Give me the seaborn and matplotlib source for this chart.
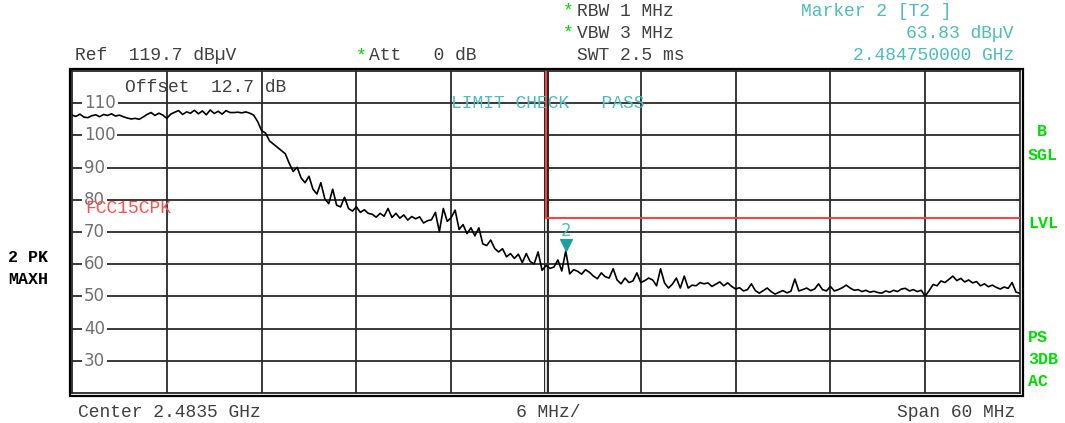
import numpy as np
import pandas as pd
import seaborn as sns
import matplotlib.pyplot as plt
from matplotlib.patches import Rectangle

# sweep settings
center_ghz = 2.4835
span_ghz = 0.060
ref_level = 119.7
n_points = 241

# trace levels (dBuV), 0.25 MHz per point
levels = [
    106.0, 105.6, 106.3, 105.4, 105.2, 105.8, 106.1, 105.5, 106.2, 105.9,
    106.4, 105.7, 106.0, 105.5, 105.1, 104.8, 105.0, 104.7, 105.4, 106.2,
    106.8, 105.9, 106.6, 106.0, 105.0, 106.3, 106.9, 107.4, 106.2, 107.0,
    106.6, 107.5, 106.4, 107.3, 106.1, 107.6, 106.5, 107.2, 106.3, 107.4,
    106.8, 106.8, 106.9, 106.7, 107.0, 106.6, 106.0, 104.0, 101.2, 100.4,
    98.0, 97.0, 96.0, 95.0, 94.0, 91.0, 88.5, 89.8, 86.5, 85.0,
    87.0, 83.0, 81.5, 85.0, 80.0, 78.5, 83.0, 78.0, 77.5, 80.5,
    77.0, 76.2, 77.5, 75.8, 76.6, 75.5, 75.2, 74.3, 75.5, 74.6,
    77.0, 74.2, 75.5, 74.0, 75.0, 73.4, 74.5, 73.8, 74.4, 72.5,
    73.2, 73.5, 75.8, 69.8, 77.0, 73.0, 74.2, 76.5, 70.5, 72.0,
    69.2, 71.0, 68.5, 71.0, 66.0, 65.5, 67.2, 64.6, 63.5, 64.5,
    62.0, 63.0, 61.5, 62.8, 60.2, 63.0, 60.5, 59.8, 63.5, 57.8,
    59.3, 58.4, 58.8, 61.0, 57.6, 63.83, 56.7, 58.0, 57.5, 56.6,
    58.0, 57.2, 56.0, 55.2, 57.0, 55.8, 55.4, 58.3, 54.8, 53.6,
    55.4, 54.0, 54.5, 57.0, 54.0, 54.6, 55.4, 54.8, 53.0, 58.3,
    53.9, 52.3, 53.5, 55.4, 52.3, 56.0, 52.3, 53.2, 53.0, 54.0,
    53.6, 53.9, 52.8, 53.5, 54.2, 53.0, 53.9, 52.8, 52.0, 52.4,
    51.4, 51.8, 53.6, 51.5, 50.7, 51.5, 52.3, 51.2, 50.4, 51.0,
    51.5, 50.8, 51.3, 55.1, 51.4, 51.8, 52.3, 51.5, 52.0, 53.6,
    51.8, 51.4, 52.8, 51.4, 51.8, 52.4, 53.2, 52.3, 51.6, 51.8,
    51.2, 51.6, 51.0, 51.3, 50.9, 50.7, 51.4, 51.0, 51.6, 51.2,
    52.0, 52.2, 51.4, 51.8, 51.2, 51.6, 49.8, 51.5, 53.4, 53.0,
    54.5, 54.0, 55.0, 56.0, 54.6, 55.3, 54.2, 54.8, 53.9, 54.3,
    53.0, 53.6, 52.7, 53.2, 52.5, 52.0, 52.6, 52.2, 54.0, 51.0,
    50.7,
]

# limit line FCC15CPK
limit_freq = [2.4835, 2.4835, 2.5135]
limit_level = [ref_level, 74.0, 74.0]

# marker 2
marker_freq = 2.48475
marker_level = 63.83

ytick_vals = [109.7, 99.7, 89.7, 79.7, 69.7, 59.7, 49.7, 39.7, 29.7]
ytick_labels = ["110", "100", "90", "80", "70", "60", "50", "40", "30"]

f_start = center_ghz - span_ghz / 2
f_stop = center_ghz + span_ghz / 2
df = pd.DataFrame({"freq": np.linspace(f_start, f_stop, n_points), "level": levels})

sns.set_style("white")
plt.rcParams["font.family"] = ["Liberation Mono", "DejaVu Sans Mono"]

W, H = 1065, 423
fig = plt.figure(figsize=(W / 100, H / 100), dpi=100)
ax = fig.add_axes([72 / W, 1 - 393 / H, 948 / W, 322 / H])

teal = "#4cbcbc"
green = "#00dd00"
gray = "#404040"
red = "#ff3c3c"
grid_c = "#2a2a2a"

ax.set_xlim(f_start, f_stop)
ax.set_ylim(ref_level - 100, ref_level)
for f in np.linspace(f_start, f_stop, 11)[1:-1]:
    ax.axvline(f, color=grid_c, lw=1.3, zorder=1)
ax.axvline(center_ghz, color=grid_c, lw=3.6, zorder=1)
ax.axvline(center_ghz, color="white", lw=1.2, zorder=1)
for y in ytick_vals:
    ax.axhline(y, color=grid_c, lw=1.3, zorder=1)
for y, lab in zip(ytick_vals, ytick_labels):
    ax.text(f_start + 0.00075, y, lab, fontsize=12, color="#707070",
            family="DejaVu Sans", va="center", ha="left", zorder=2,
            bbox=dict(facecolor="white", edgecolor="none", pad=1.5))

ax.plot(limit_freq, limit_level, color=red, lw=1.4, zorder=3)
sns.lineplot(data=df, x="freq", y="level", color="black", lw=1.2, ax=ax, zorder=4)

ax.scatter([marker_freq], [marker_level + 1.9], marker="v", s=70,
           color="#1aa0a0", zorder=5)
ax.text(marker_freq, marker_level + 6.2, "2", color=teal, fontsize=12,
        family="DejaVu Sans", ha="center", va="center", zorder=5)

ax.set_xticks([])
ax.set_yticks([])
ax.set_xlabel("")
ax.set_ylabel("")
for s in ax.spines.values():
    s.set_color(grid_c)
    s.set_linewidth(1.3)

# outer frame (double border)
fig.patches.append(Rectangle((69.5 / W, 1 - 396 / H), 953 / W, 327 / H,
                             transform=fig.transFigure, fill=False,
                             edgecolor="black", lw=1.6))


def txt(x, y, s, **kw):
    kw.setdefault("fontsize", 13)
    kw.setdefault("color", gray)
    kw.setdefault("va", "center")
    fig.text(x / W, 1 - y / H, s, **kw)


txt(75, 56, "Ref  119.7 dB\u00b5V")
txt(356, 56, "*", color=green, fontsize=13)
txt(369, 56, "Att   0 dB")
txt(563, 11, "*", color=green)
txt(577, 11, "RBW 1 MHz")
txt(563, 33, "*", color=green)
txt(577, 33, "VBW 3 MHz")
txt(577, 56, "SWT 2.5 ms")
txt(801, 11, "Marker 2 [T2 ]", color=teal)
txt(1014, 33, "63.83 dB\u00b5V", color=teal, ha="right")
txt(1014, 55, "2.484750000 GHz", color=teal, ha="right")

txt(125, 87, "Offset  12.7 dB")
txt(451, 104, "LIMIT CHECK   PASS", color=teal)
txt(85, 208, "FCC15CPK", color="#ff5050")

txt(8, 257, "2 PK", color="black", fontweight="bold", fontsize=12)
txt(8, 280, "MAXH", color="black", fontweight="bold", fontsize=12)

for y, s in [(131, "B"), (155, "SGL"), (223, "LVL"), (337, "PS"), (359, "3DB"), (381, "AC")]:
    x = 1037 if s == "B" else 1028
    txt(x, y, s, color=green, fontweight="bold", fontsize=12)

txt(78, 412, "Center 2.4835 GHz")
txt(548, 412, "6 MHz/", ha="center")
txt(1015, 412, "Span 60 MHz", ha="right")

fig.savefig("out.png", dpi=100, facecolor="white")
